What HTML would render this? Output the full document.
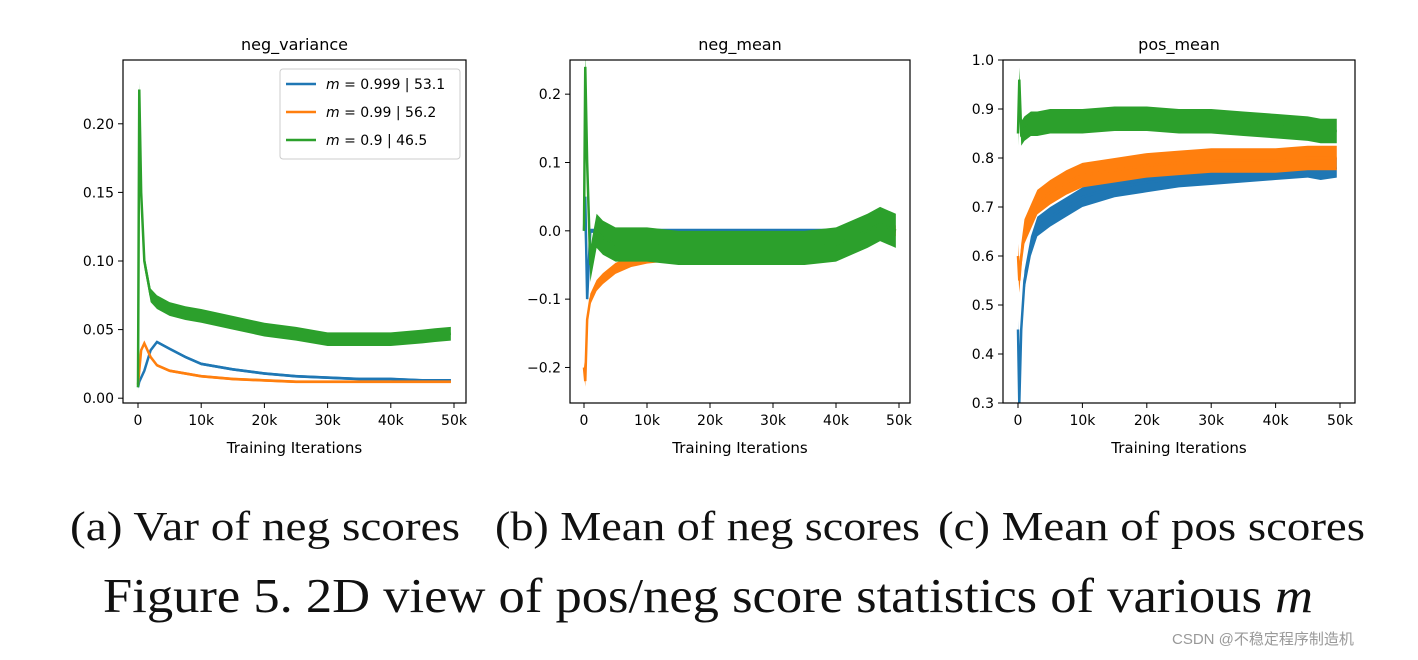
<!DOCTYPE html>
<html><head><meta charset="utf-8">
<style>
body{margin:0;background:#fff;width:1418px;height:660px;overflow:hidden;position:relative}
svg{position:absolute;left:0;top:0}
</style></head>
<body>
<svg id="fig" width="1418" height="660">
<text x="70" y="540" font-size="41" font-family="Liberation Serif,serif" fill="#111" textLength="390" lengthAdjust="spacingAndGlyphs">(a)  Var of neg scores</text>
<text x="495" y="540" font-size="41" font-family="Liberation Serif,serif" fill="#111" textLength="425" lengthAdjust="spacingAndGlyphs">(b)  Mean of neg scores</text>
<text x="938" y="540" font-size="41" font-family="Liberation Serif,serif" fill="#111" textLength="427" lengthAdjust="spacingAndGlyphs">(c)  Mean of pos scores</text>
<text x="103" y="612" font-size="49" font-family="Liberation Serif,serif" fill="#111" textLength="1210" lengthAdjust="spacingAndGlyphs">Figure 5. 2D view of pos/neg score statistics of various <tspan font-style="italic">m</tspan></text>
<text x="1172" y="644" font-size="15" font-family="Liberation Sans,Noto Sans CJK SC,sans-serif" fill="#999">CSDN @不稳定程序制造机</text>
</svg>
<script>
const iters = [0,0.2,0.5,1,2,3,5,7.5,10,15,20,25,30,35,40,45,47,49.5];
const xTicks = [0,10,20,30,40,50];
const xTickLabels = ["0","10k","20k","30k","40k","50k"];
const varBlue = [0.008,0.012,0.015,0.02,0.035,0.041,0.036,0.03,0.025,0.021,0.018,0.016,0.015,0.014,0.014,0.013,0.013,0.013];
const varOrange = [0.01,0.02,0.035,0.04,0.03,0.024,0.02,0.018,0.016,0.014,0.013,0.012,0.012,0.012,0.012,0.012,0.012,0.012];
const varGreen = [0.008,0.225,0.15,0.1,0.075,0.07,0.065,0.062,0.06,0.055,0.05,0.047,0.043,0.043,0.043,0.045,0.046,0.047];
const varNoise = [0.001,0.001,0.005];
const varTicks = [0,0.05,0.1,0.15,0.2];
const varTickLabels = ["0.00","0.05","0.10","0.15","0.20"];
const nmBlue = [0,0.05,-0.1,0,0,0,0,0,0,0,0,0,0,0,0,0,0,0];
const nmOrange = [-0.2,-0.22,-0.13,-0.1,-0.08,-0.07,-0.055,-0.045,-0.04,-0.035,-0.03,-0.028,-0.025,-0.022,-0.02,-0.01,0.01,0];
const nmGreen = [0,0.24,0.1,-0.05,0,-0.01,-0.02,-0.02,-0.02,-0.025,-0.025,-0.025,-0.025,-0.025,-0.02,0,0.01,0];
const nmNoise = [0.003,0.008,0.025];
const nmTicks = [-0.2,-0.1,0,0.1,0.2];
const nmTickLabels = ["\u22120.2","\u22120.1","0.0","0.1","0.2"];
const pmBlue = [0.45,0.3,0.45,0.55,0.62,0.66,0.68,0.7,0.72,0.74,0.75,0.76,0.765,0.77,0.775,0.78,0.775,0.78];
const pmOrange = [0.6,0.55,0.6,0.65,0.68,0.71,0.73,0.75,0.765,0.775,0.785,0.79,0.795,0.795,0.795,0.8,0.8,0.8];
const pmGreen = [0.85,0.96,0.85,0.86,0.87,0.87,0.875,0.875,0.875,0.88,0.88,0.875,0.875,0.87,0.865,0.86,0.855,0.855];
const pmNoise = [0.02,0.025,0.025];
const pmTicks = [0.3,0.4,0.5,0.6,0.7,0.8,0.9,1.0];
const pmTickLabels = ["0.3","0.4","0.5","0.6","0.7","0.8","0.9","1.0"];
const colors = ["#1f77b4","#ff7f0e","#2ca02c"];
const NS="http://www.w3.org/2000/svg";
const svg=document.getElementById('fig');
function mk(tag,attrs,parent){const e=document.createElementNS(NS,tag);for(const k in attrs)e.setAttribute(k,attrs[k]);(parent||svg).appendChild(e);return e;}
const font='"DejaVu Sans","Liberation Sans",sans-serif';
function panel(id,box,ymin,ymax,series,noise,yt,ytl,title,x0px,x50px){
  const sx=v=>x0px+(x50px-x0px)*v/50;
  const sy=v=>box.y+box.h-(v-ymin)/(ymax-ymin)*box.h;
  const g=mk('g',{});
  
  
  const cp=mk('clipPath',{id:'c'+id},g);
  mk('rect',{x:box.x,y:box.y,width:box.w,height:box.h},cp);
  const plot=mk('g',{'clip-path':'url(#c'+id+')'},g);
  series.forEach((s,i)=>{
    const up=s.map((v,j)=>sx(iters[j])+','+sy(v+noise[i])).join(' ');
    const lo=s.map((v,j)=>sx(iters[j])+','+sy(v-noise[i])).reverse().join(' ');
    const band=mk('polygon',{points:up+' '+lo,fill:colors[i]},plot);
    
    
    const ln=mk('polyline',{points:s.map((v,j)=>sx(iters[j])+','+sy(v)).join(' '),fill:'none',stroke:colors[i],'stroke-width':2.5},plot);
    
    
  });
  mk('rect',{x:box.x,y:box.y,width:box.w,height:box.h,fill:'none',stroke:'#000','stroke-width':1.2},g);
  yt.forEach((v,i)=>{
    const y=sy(v);
    mk('line',{x1:box.x-5,x2:box.x,y1:y,y2:y,stroke:'#000'},g);
    const t=mk('text',{x:box.x-9,y:y+5,'text-anchor':'end','font-size':14,'font-family':font},g);
    t.textContent=ytl[i];
    
    
  });
  xTicks.forEach((v,i)=>{
    const x=sx(v);
    mk('line',{x1:x,x2:x,y1:box.y+box.h,y2:box.y+box.h+5,stroke:'#000'},g);
    const t=mk('text',{x:x,y:box.y+box.h+22,'text-anchor':'middle','font-size':14,'font-family':font},g);
    t.textContent=xTickLabels[i];
    
    
  });
  const tt=mk('text',{x:box.x+box.w/2,y:box.y-10,'text-anchor':'middle','font-size':16,'font-family':font},g);
  tt.textContent=title;
  
  
  const xl=mk('text',{x:box.x+box.w/2,y:box.y+box.h+50,'text-anchor':'middle','font-size':15,'font-family':font},g);
  xl.textContent='Training Iterations';
  
  
}
panel('neg-variance',{x:123,y:60,w:343,h:343},-0.0035,0.2465,[varBlue,varOrange,varGreen],varNoise,varTicks,varTickLabels,'neg_variance',138,454);
panel('neg-mean',{x:570,y:60,w:340,h:343},-0.252,0.25,[nmBlue,nmOrange,nmGreen],nmNoise,nmTicks,nmTickLabels,'neg_mean',584,899);
panel('pos-mean',{x:1003,y:60,w:352,h:343},0.3,1.0,[pmBlue,pmOrange,pmGreen],pmNoise,pmTicks,pmTickLabels,'pos_mean',1018,1340);
const lg=mk('g',{});


mk('rect',{x:280,y:69,width:180,height:90,rx:3,fill:'#fff',stroke:'#ccc'},lg);
const labs=[["0.999","53.1"],["0.99","56.2"],["0.9","46.5"]];
labs.forEach((l,i)=>{
  const y=84+i*28;
  mk('line',{x1:286,x2:316,y1:y,y2:y,stroke:colors[i],'stroke-width':2.5},lg);
  const t=mk('text',{x:326,y:y+5,'font-size':14,'font-family':font},lg);
  t.innerHTML='<tspan font-style="italic">m</tspan> = '+l[0]+' | '+l[1];
  
  
});
</script>
</body></html>
